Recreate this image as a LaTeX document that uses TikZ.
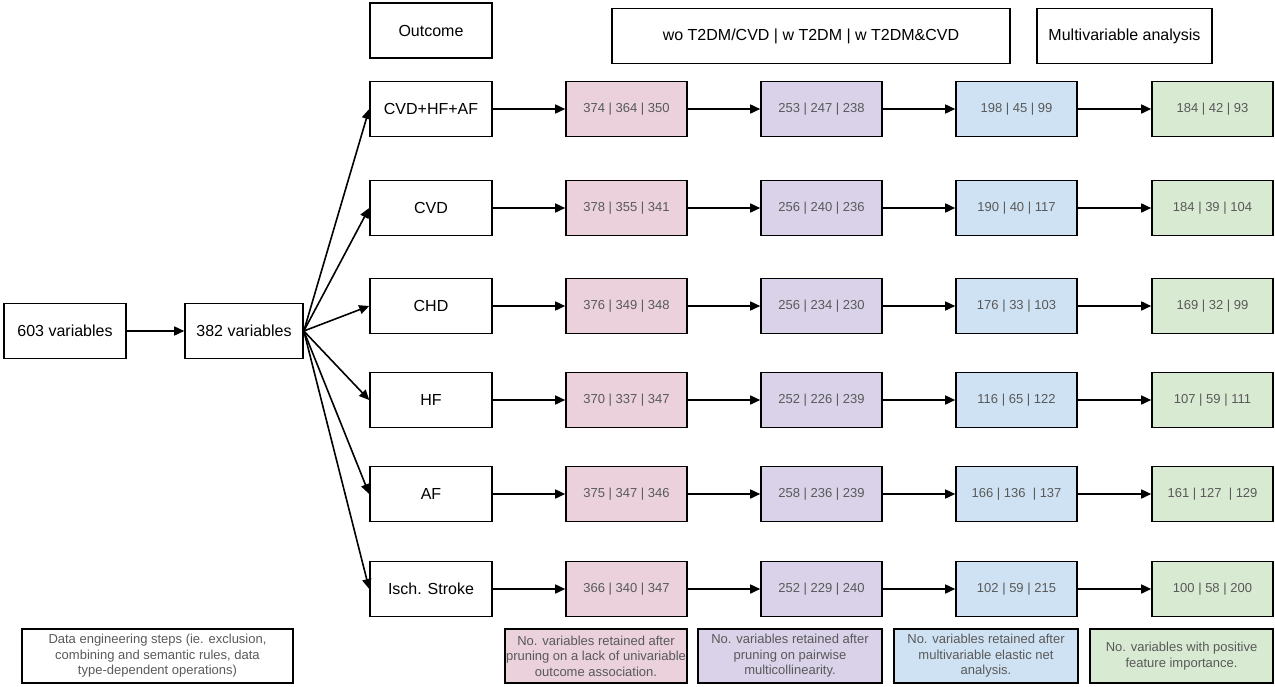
\documentclass[tikz,border=0pt]{standalone}
\usepackage{fontspec}
\setmainfont{Liberation Sans}
\usetikzlibrary{arrows.meta}
\definecolor{pinkbox}{HTML}{EAD1DC}
\definecolor{purplebox}{HTML}{D9D2E9}
\definecolor{bluebox}{HTML}{CFE2F3}
\definecolor{greenbox}{HTML}{D9EAD3}
\definecolor{numgrey}{HTML}{595959}
\begin{document}
\begin{tikzpicture}[x=1pt,y=-1pt,>={Triangle[length=10pt,width=9pt]},line width=1.6pt,
	box/.style={draw,inner sep=0pt,minimum height=55pt,minimum width=122pt,
		font=\fontsize{16}{19}\selectfont},
	count/.style={draw,inner sep=0pt,minimum height=55pt,minimum width=121pt,
		text=numgrey,font=\fontsize{13}{15}\selectfont},
	legend/.style={draw,inner sep=0pt,minimum height=54pt,text=numgrey,align=center,
		font=\fontsize{13}{15.5}\selectfont}]
\useasboundingbox (0,0) rectangle (1275,686);
% headers
\node[box] (outcome) at (431,30.5) {Outcome};
\node[box,minimum width=398pt] (groups) at (811,36) {wo T2DM/CVD | w T2DM | w T2DM\&CVD};
\node[box,minimum width=175pt] (multi) at (1124.5,36) {Multivariable analysis};
% data engineering
\node[box] (v603) at (65,331) {603 variables};
\node[box,minimum width=118pt] (v382) at (244,331) {382 variables};
\draw[->] (v603) -- (v382);
% outcomes
\node[box] (o1) at (431,109) {CVD+HF+AF};
\node[box] (o2) at (431,208) {CVD};
\node[box] (o3) at (431,306) {CHD};
\node[box] (o4) at (431,400) {HF};
\node[box] (o5) at (431,494) {AF};
\node[box] (o6) at (431,589) {Isch. Stroke};
\draw[->] (v382.east) -- (o1.west);
\draw[->] (v382.east) -- (o2.west);
\draw[->] (v382.east) -- (o3.west);
\draw[->] (v382.east) -- (o4.west);
\draw[->] (v382.east) -- (o5.west);
\draw[->] (v382.east) -- (o6.west);
% univariable pruning
\node[count,fill=pinkbox] (a1) at (626.5,109) {374 | 364 | 350};
\node[count,fill=pinkbox] (a2) at (626.5,208) {378 | 355 | 341};
\node[count,fill=pinkbox] (a3) at (626.5,306) {376 | 349 | 348};
\node[count,fill=pinkbox] (a4) at (626.5,400) {370 | 337 | 347};
\node[count,fill=pinkbox] (a5) at (626.5,494) {375 | 347 | 346};
\node[count,fill=pinkbox] (a6) at (626.5,589) {366 | 340 | 347};
% multicollinearity
\node[count,fill=purplebox] (b1) at (821.5,109) {253 | 247 | 238};
\node[count,fill=purplebox] (b2) at (821.5,208) {256 | 240 | 236};
\node[count,fill=purplebox] (b3) at (821.5,306) {256 | 234 | 230};
\node[count,fill=purplebox] (b4) at (821.5,400) {252 | 226 | 239};
\node[count,fill=purplebox] (b5) at (821.5,494) {258 | 236 | 239};
\node[count,fill=purplebox] (b6) at (821.5,589) {252 | 229 | 240};
% elastic net
\node[count,fill=bluebox] (c1) at (1016.5,109) {198 | 45 | 99};
\node[count,fill=bluebox] (c2) at (1016.5,208) {190 | 40 | 117};
\node[count,fill=bluebox] (c3) at (1016.5,306) {176 | 33 | 103};
\node[count,fill=bluebox] (c4) at (1016.5,400) {116 | 65 | 122};
\node[count,fill=bluebox] (c5) at (1016.5,494) {166 | 136 \ | 137};
\node[count,fill=bluebox] (c6) at (1016.5,589) {102 | 59 | 215};
% feature importance
\node[count,fill=greenbox] (d1) at (1212.5,109) {184 | 42 | 93};
\node[count,fill=greenbox] (d2) at (1212.5,208) {184 | 39 | 104};
\node[count,fill=greenbox] (d3) at (1212.5,306) {169 | 32 | 99};
\node[count,fill=greenbox] (d4) at (1212.5,400) {107 | 59 | 111};
\node[count,fill=greenbox] (d5) at (1212.5,494) {161 | 127 \ | 129};
\node[count,fill=greenbox] (d6) at (1212.5,589) {100 | 58 | 200};
\draw[->] (o1) edge (a1) (a1) edge (b1) (b1) edge (c1) (c1) edge (d1);
\draw[->] (o2) edge (a2) (a2) edge (b2) (b2) edge (c2) (c2) edge (d2);
\draw[->] (o3) edge (a3) (a3) edge (b3) (b3) edge (c3) (c3) edge (d3);
\draw[->] (o4) edge (a4) (a4) edge (b4) (b4) edge (c4) (c4) edge (d4);
\draw[->] (o5) edge (a5) (a5) edge (b5) (b5) edge (c5) (c5) edge (d5);
\draw[->] (o6) edge (a6) (a6) edge (b6) (b6) edge (c6) (c6) edge (d6);
% legend
\node[legend,minimum width=271pt] (ldata) at (157.5,656)
	{Data engineering steps (ie. exclusion,\\combining and semantic rules, data\\type-dependent operations)};
\node[legend,minimum width=182pt,fill=pinkbox] (lpink) at (596,656)
	{No. variables retained after\\pruning on a lack of univariable\\outcome association.};
\node[legend,minimum width=184pt,fill=purplebox] (lpurple) at (790,656)
	{No. variables retained after\\pruning on pairwise\\multicollinearity.};
\node[legend,minimum width=184pt,fill=bluebox] (lblue) at (986,656)
	{No. variables retained after\\multivariable elastic net\\analysis.};
\node[legend,minimum width=183pt,fill=greenbox] (lgreen) at (1181.5,656)
	{No. variables with positive\\feature importance.};
\end{tikzpicture}
\end{document}
